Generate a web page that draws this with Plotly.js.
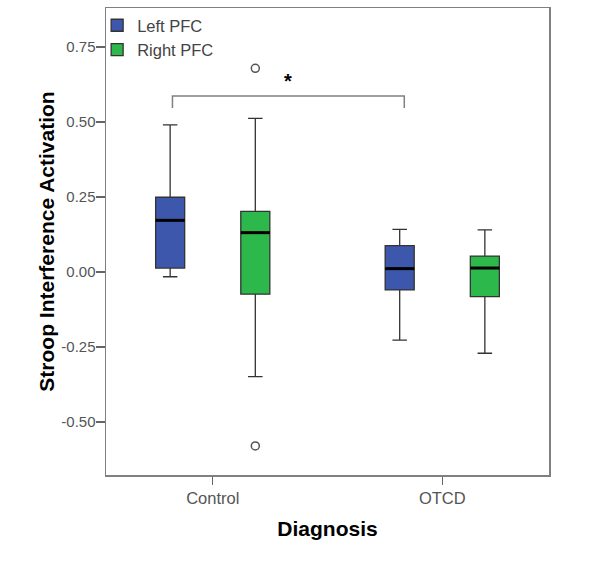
<!DOCTYPE html>
<html>
<head>
<meta charset="utf-8">
<script src="https://cdn.plot.ly/plotly-3.0.1.min.js"></script>
<style>html,body{margin:0;padding:0;background:#fff;}#chart{width:600px;height:565px;}</style>
</head>
<body>
<div id="chart"></div>
<script>
// ---- data ----
var categories = ['Control', 'OTCD'];
var catPos = [0, 1];
var seriesNames = ['Left PFC', 'Right PFC'];
var leftLower = [-0.016, -0.227];
var leftQ1 = [0.013, -0.060];
var leftMedian = [0.172, 0.011];
var leftQ3 = [0.249, 0.088];
var leftUpper = [0.490, 0.142];
var rightLower = [-0.349, -0.271];
var rightQ1 = [-0.074, -0.082];
var rightMedian = [0.131, 0.013];
var rightQ3 = [0.202, 0.053];
var rightUpper = [0.512, 0.140];
var outlierCategory = [0, 0];
var outlierValues = [0.679, -0.580];
var yTickVals = [-0.5, -0.25, 0, 0.25, 0.5, 0.75];
var yTickText = yTickVals.map(function (v) { return v.toFixed(2); });

// ---- geometry of grouped boxes ----
var boxGap = 0.258, boxGroupGap = 0.659;
var dPos = 0.5;
var offset = dPos * (1 - boxGap) / 2;
var halfW = dPos * (1 - boxGap) * (1 - boxGroupGap) / 2;

var blue = '#3d57ad', green = '#2cb84b', edge = '#333333';
var font = '"Liberation Sans", Arial, sans-serif';

function boxTrace(name, color, lf, q1, med, q3, uf) {
  return {
    type: 'box', name: name, x: catPos,
    lowerfence: lf, q1: q1, median: med, q3: q3, upperfence: uf,
    fillcolor: color, line: {color: edge, width: 1.3},
    whiskerwidth: 0.5, boxpoints: false, hoverinfo: 'skip'
  };
}
function medianTrace(med, sign) {
  var xs = [], ys = [];
  for (var i = 0; i < catPos.length; i++) {
    var c = catPos[i] + sign * offset;
    xs.push(c - halfW, c + halfW, null);
    ys.push(med[i], med[i], null);
  }
  return {type: 'scatter', mode: 'lines', x: xs, y: ys, showlegend: false,
          line: {color: '#000', width: 3}, hoverinfo: 'skip'};
}

var data = [
  boxTrace(seriesNames[0], blue, leftLower, leftQ1, leftMedian, leftQ3, leftUpper),
  boxTrace(seriesNames[1], green, rightLower, rightQ1, rightMedian, rightQ3, rightUpper),
  medianTrace(leftMedian, -1),
  medianTrace(rightMedian, 1),
  {type: 'scatter', mode: 'markers', showlegend: false, hoverinfo: 'skip',
   x: outlierCategory.map(function (c) { return c + offset; }), y: outlierValues,
   marker: {symbol: 'circle-open', size: 8, color: '#555', line: {width: 1.5}}}
];

// significance bracket between Control-Left and OTCD-Left
var bx0 = catPos[0] - offset + 0.01, bx1 = catPos[1] - offset + 0.02;
var byTop = 0.587, byEnd = 0.547;

var layout = {
  width: 600, height: 565,
  margin: {l: 106, r: 51, t: 8, b: 90},
  paper_bgcolor: '#fff', plot_bgcolor: '#fff',
  font: {family: font, color: '#555'},
  boxmode: 'group', boxgap: boxGap, boxgroupgap: boxGroupGap,
  showlegend: true,
  legend: {x: -0.02, y: 1.0, xanchor: 'left', yanchor: 'top', bgcolor: 'rgba(0,0,0,0)',
           font: {size: 16.5, color: '#444', family: font}, tracegroupgap: 0},
  xaxis: {
    range: [-0.465, 1.465], tickvals: catPos, ticktext: categories,
    showgrid: false, zeroline: false,
    showline: true, mirror: true, linecolor: '#808080', linewidth: 1.5,
    ticks: 'outside', ticklen: 8, tickcolor: '#666', tickwidth: 1.5,
    tickfont: {size: 16.5, color: '#555', family: font},
    title: {text: 'Diagnosis', font: {size: 21, color: '#000', family: font, weight: 'bold'}, standoff: 15}
  },
  yaxis: {
    range: [-0.677, 0.88], tickvals: yTickVals, ticktext: yTickText,
    showgrid: false, zeroline: false,
    showline: true, mirror: true, linecolor: '#808080', linewidth: 1.5,
    ticks: 'outside', ticklen: 9, tickcolor: '#666', tickwidth: 1.5, ticklabelstandoff: -3,
    tickfont: {size: 15, color: '#555', family: font},
    title: {text: 'Stroop Interference Activation', font: {size: 21, color: '#000', family: font, weight: 'bold'}, standoff: 1}
  },
  shapes: [{
    type: 'path', xref: 'x', yref: 'y',
    path: 'M' + bx0 + ',' + byEnd + ' L' + bx0 + ',' + byTop + ' L' + bx1 + ',' + byTop + ' L' + bx1 + ',' + byEnd,
    line: {color: '#808080', width: 1.5}
  }],
  annotations: [{
    xref: 'x', yref: 'y', x: (bx0 + bx1) / 2, y: byTop, yanchor: 'bottom', yshift: 2,
    text: '*', showarrow: false, font: {size: 20, color: '#000', family: font, weight: 'bold'}
  }]
};

Plotly.newPlot('chart', data, layout, {displayModeBar: false, staticPlot: true});
</script>
</body>
</html>
